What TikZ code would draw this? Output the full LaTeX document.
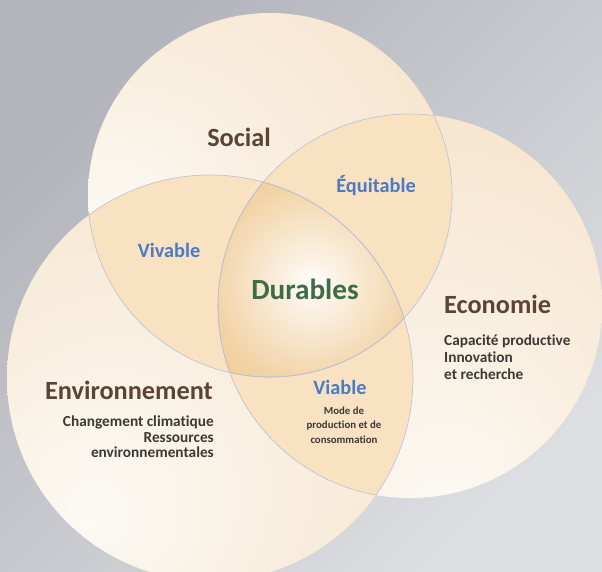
\documentclass[tikz,border=0pt]{standalone}
\usepackage{fontspec}
\setmainfont{Carlito}[Ligatures=NoCommon]
\definecolor{bgA}{HTML}{B3B4BB}
\definecolor{bgB}{HTML}{DDDEE1}
\definecolor{cwhite}{HTML}{FCFAF5}
\definecolor{cpeach}{HTML}{F5E1C6}
\definecolor{cpeachd}{HTML}{F2D9B6}
\definecolor{lenscol}{HTML}{F8E2C1}
\definecolor{durout}{HTML}{EBBE7F}
\definecolor{durmid}{HTML}{F2D3A6}
\definecolor{edgecol}{HTML}{B9C0D4}
\definecolor{headcol}{HTML}{5B4434}
\definecolor{bluecol}{HTML}{4B7BC4}
\definecolor{greencol}{HTML}{3E6C47}
\definecolor{smallcol}{HTML}{3C3935}
\pgfdeclareradialshading{socsh}{\pgfpoint{-25bp}{-5bp}}{color(0bp)=(cwhite); color(18bp)=(cwhite!60!cpeach); color(50bp)=(cpeach); color(80bp)=(cpeachd)}
\pgfdeclareradialshading{envsh}{\pgfpoint{-15bp}{-18bp}}{color(0bp)=(cwhite); color(18bp)=(cwhite!60!cpeach); color(50bp)=(cpeach); color(80bp)=(cpeachd)}
\pgfdeclareradialshading{ecosh}{\pgfpoint{5bp}{-28bp}}{color(0bp)=(cwhite); color(18bp)=(cwhite!60!cpeach); color(50bp)=(cpeach); color(80bp)=(cpeachd)}
\pgfdeclareradialshading{dursh}{\pgfpoint{0bp}{0bp}}{color(0bp)=(white); color(4bp)=(white!75!durmid); color(20bp)=(durmid); color(42bp)=(durout); color(80bp)=(durout)}
\tikzset{
  headtxt/.style={inner sep=0pt, text=headcol, font=\bfseries\fontsize{26.3}{28}\selectfont},
  bluetxt/.style={inner sep=0pt, text=bluecol, font=\bfseries\fontsize{20.3}{22}\selectfont},
  smalltxt/.style={inner sep=0pt, text=smallcol, font=\bfseries\fontsize{15.3}{17}\selectfont},
  tinytxt/.style={inner sep=0pt, text=smallcol, font=\bfseries\fontsize{10.8}{12}\selectfont},
  edgeline/.style={draw=edgecol, line width=0.6pt},
}
\begin{document}
\begin{tikzpicture}[x=1pt,y=-1pt]
\useasboundingbox (0,0) rectangle (602,571);
\shade[top color=bgA, bottom color=bgB, shading angle=45] (0,0) rectangle (602,571);
\begin{scope}
\clip (0,0) rectangle (602,571);
% base circles
\shade[shading=socsh] (270,195) circle[radius=182pt];
\shade[shading=envsh] (210,378) circle[radius=203pt];
\shade[shading=ecosh] (410,306) circle[radius=192pt];
% lenses
\begin{scope}
\clip (270,195) circle[radius=182pt];
\fill[lenscol] (210,378) circle[radius=203pt];
\end{scope}
\begin{scope}
\clip (270,195) circle[radius=182pt];
\fill[lenscol] (410,306) circle[radius=192pt];
\end{scope}
\begin{scope}
\clip (210,378) circle[radius=203pt];
\fill[lenscol] (410,306) circle[radius=192pt];
\end{scope}
% centre
\begin{scope}
\clip (270,195) circle[radius=182pt];
\clip (210,378) circle[radius=203pt];
\clip (410,306) circle[radius=192pt];
\fill[durout] (200,170) rectangle (420,390);
\shade[shading=dursh] (312,283) circle[radius=125pt];
\end{scope}
% inner edges
\begin{scope}
\clip (210,378) circle[radius=203pt];
\draw[edgeline] (270,195) circle[radius=182pt];
\draw[edgeline] (410,306) circle[radius=192pt];
\end{scope}
\begin{scope}
\clip (270,195) circle[radius=182pt];
\draw[edgeline] (210,378) circle[radius=203pt];
\draw[edgeline] (410,306) circle[radius=192pt];
\end{scope}
\begin{scope}
\clip (410,306) circle[radius=192pt];
\draw[edgeline] (270,195) circle[radius=182pt];
\draw[edgeline] (210,378) circle[radius=203pt];
\end{scope}
\end{scope}
% texts
\node[headtxt, anchor=base] (social) at (239,146) {Social};
\node[headtxt, anchor=base west] (eco) at (444,313) {Economie};
\node[headtxt, anchor=base east] (env) at (213,399) {Environnement};
\node[bluetxt, anchor=base] (equi) at (376,192) {Équitable};
\node[bluetxt, anchor=base] (viva) at (169,257) {Vivable};
\node[bluetxt, anchor=base] (viab) at (340,394) {Viable};
\node[inner sep=0pt, text=greencol, font=\bfseries\fontsize{29.2}{31}\selectfont, anchor=base] (dur) at (305,299) {Durables};
\node[smalltxt, anchor=base west] (eco1) at (444,345) {Capacité productive};
\node[smalltxt, anchor=base west] (eco2) at (444,362) {Innovation};
\node[smalltxt, anchor=base west] (eco3) at (444,379) {et recherche};
\node[smalltxt, anchor=base east] (env1) at (214,426) {Changement climatique};
\node[smalltxt, anchor=base east] (env2) at (214,442) {Ressources};
\node[smalltxt, anchor=base east] (env3) at (214,457) {environnementales};
\node[tinytxt, anchor=base] (via1) at (344,414) {Mode de};
\node[tinytxt, anchor=base] (via2) at (344,428) {production et de};
\node[tinytxt, anchor=base] (via3) at (344,443) {consommation};
\end{tikzpicture}
\end{document}
